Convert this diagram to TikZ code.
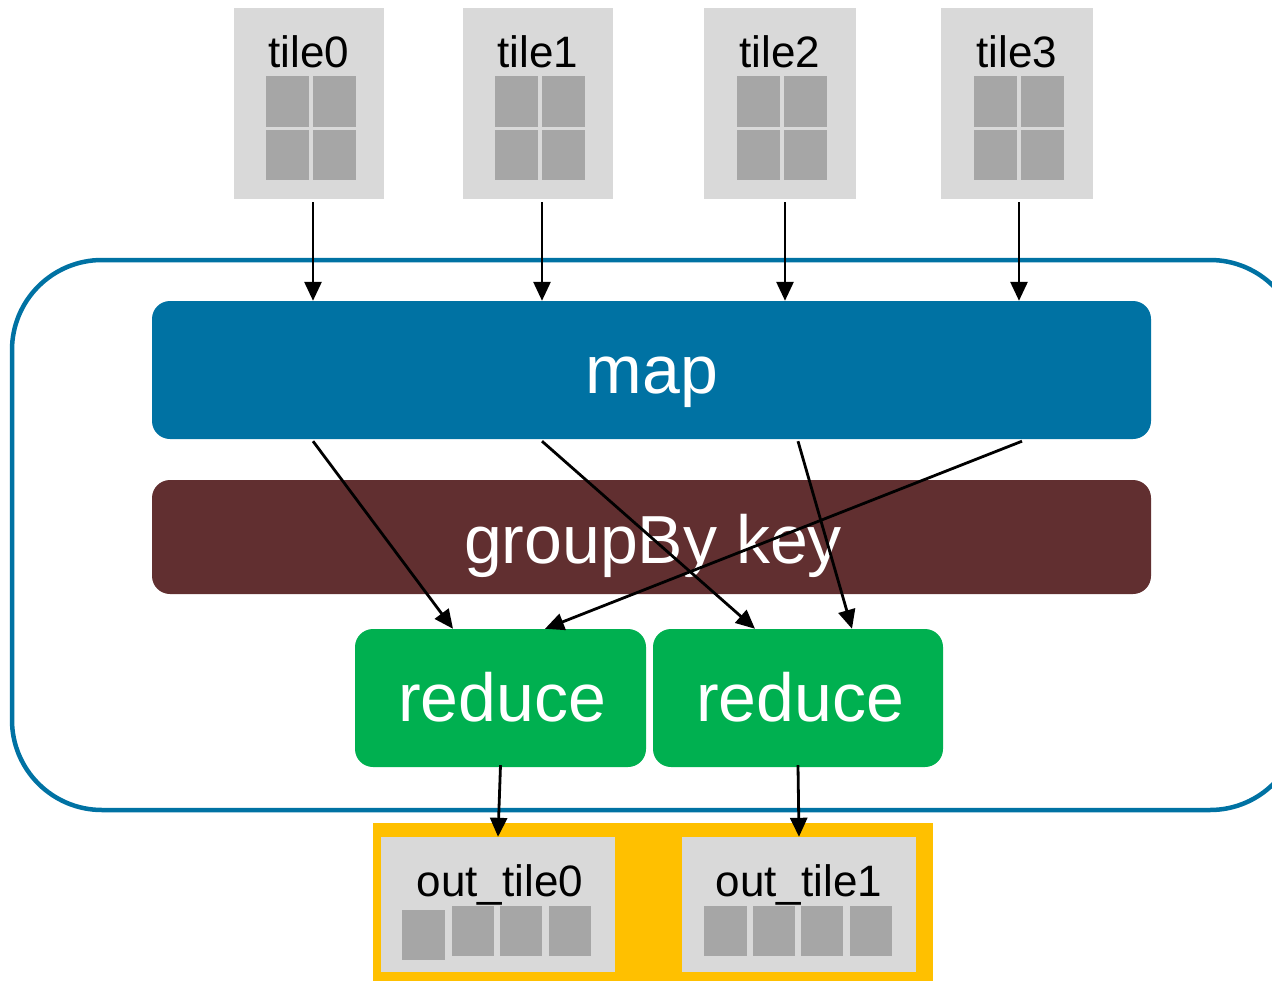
\documentclass[tikz,border=0pt]{standalone}
\usepackage{fontspec}
\setmainfont{Liberation Sans}
\usetikzlibrary{arrows.meta,calc}
\definecolor{mapblue}{RGB}{0,114,163}
\definecolor{grpbrown}{RGB}{97,47,48}
\definecolor{redgreen}{RGB}{0,176,80}
\definecolor{tilegray}{RGB}{217,217,217}
\definecolor{cellgray}{RGB}{166,166,166}
\definecolor{outyellow}{RGB}{255,192,0}
\begin{document}
\begin{tikzpicture}[x=1pt,y=-1pt,
  tilebox/.style={fill=tilegray, inner sep=0pt, minimum width=150pt, minimum height=191pt},
  outbox/.style={fill=tilegray, inner sep=0pt, minimum width=234pt, minimum height=135pt},
  stage/.style={inner sep=0pt, rounded corners=18pt},
  bigtxt/.style={text=white, anchor=base, inner sep=0pt, font=\fontsize{68}{68}\selectfont},
  smalltxt/.style={text=black, anchor=base, inner sep=0pt, font=\fontsize{44}{44}\selectfont},
  cell/.style={fill=cellgray},
  flow/.style={draw=black, line width=2.8pt, -{Triangle[length=19pt,width=17pt]}}]
\useasboundingbox (0,0) rectangle (1272,982);

% outer job frame (runs past the right edge)
\draw[mapblue, line width=4.5pt, rounded corners=90pt] (12,260) rectangle (1300,810);

% stage boxes
\node[stage, fill=mapblue, minimum width=999pt, minimum height=138pt] (map) at (651.5,370) {};
\node[stage, fill=grpbrown, minimum width=999pt, minimum height=114pt] (grp) at (651.5,537) {};
\node[stage, fill=redgreen, minimum width=291pt, minimum height=138pt] (r0) at (500.5,698) {};
\node[stage, fill=redgreen, minimum width=290pt, minimum height=138pt] (r1) at (798,698) {};
\node[bigtxt] (mapl) at (652,393) {map};
\node[bigtxt] (grpl) at (653,563) {groupBy key};
\node[bigtxt] (r0l) at (502,721) {reduce};
\node[bigtxt] (r1l) at (800,721) {reduce};

% input tiles
\foreach \n/\cx/\w in {0/309/150pt, 1/538/150pt, 2/780/152pt, 3/1017/152pt}{
  \node[tilebox, minimum width=\w] (t\n) at (\cx,103.5) {};
  \node[smalltxt] (t\n l) at (\cx,67) {tile\n};
  \foreach \dx in {-45,2}{
    \foreach \ty in {76.5,129.5}{
      \fill[cell] ($(t\n.center)+(\dx+2,0)$) ++(0,\ty-103.5) rectangle ++(43,50);
    }
  }
}

% output tiles
\fill[outyellow] (373,823) rectangle (933,981);
\node[outbox] (o0) at (498,904.5) {};
\node[outbox] (o1) at (799,904.5) {};
\node[smalltxt] (o0l) at (500,896) {out\_tile0};
\node[smalltxt] (o1l) at (799,896) {out\_tile1};
\foreach \o in {o0,o1}{
  \foreach \dx in {71,119,168}{
    \fill[cell] ($(\o.west)+(\dx,1.5)$) rectangle ++(42,50);
  }
}
\fill[cell] ($(o0.west)+(21,5.5)$) rectangle ++(43,50);
\fill[cell] ($(o1.west)+(22,1.5)$) rectangle ++(43,50);

% tiles into map
\foreach \n/\s in {0/4pt,1/4pt,2/5pt,3/2pt}{
  \draw[flow] ([xshift=\s]t\n.south) ++(0,3) -- ([xshift=\s]t\n.south |- map.north);
}

% map outputs to reducers
\draw[flow] ([xshift=-338.5pt]map.south) ++(0,2) -- ([xshift=-47.5pt]r0.north);
\draw[flow] ([xshift=-109.5pt]map.south) ++(0,2) -- ([xshift=-43pt]r1.north);
\draw[flow] ([xshift=146.5pt]map.south) ++(0,2) -- ([xshift=54pt]r1.north);
\draw[flow] ([xshift=370.5pt]map.south) ++(0,2) -- ([xshift=44.5pt]r0.north);

% reducers to output tiles
\draw[flow] ([yshift=2pt]r0.south) -- (o0.north);
\draw[flow] ([yshift=2pt]r1.south) -- (o1.north);
\end{tikzpicture}
\end{document}
